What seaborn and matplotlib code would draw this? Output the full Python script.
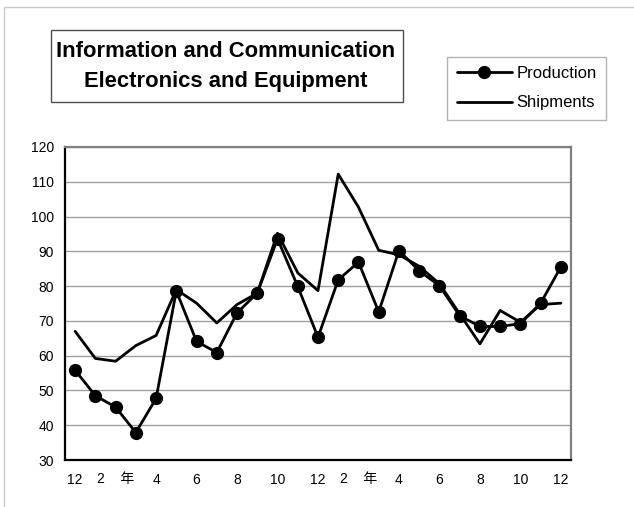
import numpy as np
import pandas as pd
import seaborn as sns
import matplotlib.pyplot as plt
from matplotlib.patches import Rectangle

months = ["12", "1", "2", "3", "4", "5", "6", "7", "8", "9", "10", "11", "12",
          "1", "2", "3", "4", "5", "6", "7", "8", "9", "10", "11", "12"]
production = [55.8, 48.5, 45.2, 37.9, 47.7, 78.6, 64.1, 60.9, 72.3, 78.0, 93.6, 79.9, 65.3,
              81.8, 86.9, 72.6, 90.2, 84.4, 80.1, 71.5, 68.4, 68.4, 69.2, 75.1, 85.5]
shipments = [67.0, 59.2, 58.4, 62.9, 65.8, 79.0, 75.1, 69.4, 74.7, 78.0, 95.2, 83.8, 78.7,
             112.2, 102.7, 90.3, 89.0, 85.7, 80.7, 72.0, 63.4, 73.0, 69.6, 74.7, 75.1]
tick_labels = ["12", "2    年", "4", "6", "8", "10", "12", "2    年", "4", "6", "8", "10", "12"]

sns.set_style("white")
plt.rcParams["font.family"] = ["Liberation Sans", "Noto Sans CJK JP", "DejaVu Sans"]
plt.rcParams["text.color"] = "black"
plt.rcParams["xtick.labelcolor"] = "black"
plt.rcParams["ytick.labelcolor"] = "black"

df = pd.DataFrame({"idx": np.arange(len(months)), "month": months,
                   "Production": production, "Shipments": shipments})

W, H = 634, 507
fig = plt.figure(figsize=(W / 100, H / 100), dpi=100)
ax = fig.add_axes([65 / W, 1 - 460 / H, (571 - 65) / W, (460 - 147) / H])

ax.set_ylim(30, 120)
ax.set_xlim(-0.5, len(months) - 0.5)
ax.set_yticks(np.arange(30, 121, 10))
ax.yaxis.grid(True, color="#a0a0a0", linewidth=1)
ax.set_axisbelow(True)

sns.lineplot(data=df, x="idx", y="Shipments", color="black", linewidth=2, ax=ax,
             label="Shipments")
sns.lineplot(data=df, x="idx", y="Production", color="black", linewidth=2, marker="o",
             markersize=8.5, markeredgewidth=1, markeredgecolor="black", ax=ax,
             label="Production")

ax.set_xticks(np.arange(0, len(months), 2))
ax.set_xticklabels(tick_labels)
ax.set_xticks(np.arange(1.5, len(months) - 1, 2), minor=True)
ax.tick_params(axis="x", which="major", length=0, pad=9, labelsize=10)
ax.tick_params(axis="x", which="minor", length=5, direction="in", color="#808080", width=1)
ax.tick_params(axis="y", length=0, pad=8, labelsize=10)
ax.set_xlabel("")
ax.set_ylabel("")

for s in ["left", "bottom"]:
    ax.spines[s].set_color("black")
    ax.spines[s].set_linewidth(1.6)
for s in ["top", "right"]:
    ax.spines[s].set_color("#808080")
    ax.spines[s].set_linewidth(1.6)

handles, labels = ax.get_legend_handles_labels()
order = [labels.index("Production"), labels.index("Shipments")]
leg = ax.legend([handles[i] for i in order], [labels[i] for i in order],
                loc="upper right", bbox_to_anchor=(606 / W, 1 - 57 / H),
                bbox_transform=fig.transFigure, fontsize=12, frameon=True,
                fancybox=False, edgecolor="#a0a0a0", handlelength=3.3,
                handletextpad=0.3, borderpad=0.55, labelspacing=0.85,
                borderaxespad=0)
leg.get_frame().set_linewidth(1)

# outer chart border and title box
fig.patches.append(Rectangle((4 / W, -0.1), 1.2, 1 - 7 / H + 0.1,
                             transform=fig.transFigure, fill=False,
                             edgecolor="#c8c8c8", linewidth=1))
fig.patches.append(Rectangle((51 / W, 1 - 102 / H), (403 - 51) / W, (102 - 30) / H,
                             transform=fig.transFigure, fill=False,
                             edgecolor="#505050", linewidth=1))
fig.text(226 / W, 1 - 66.5 / H, "Information and Communication\nElectronics and Equipment",
         ha="center", va="center", fontsize=15.8, fontweight="bold", linespacing=1.62,
         color="black")

fig.savefig("out.png", dpi=100)
